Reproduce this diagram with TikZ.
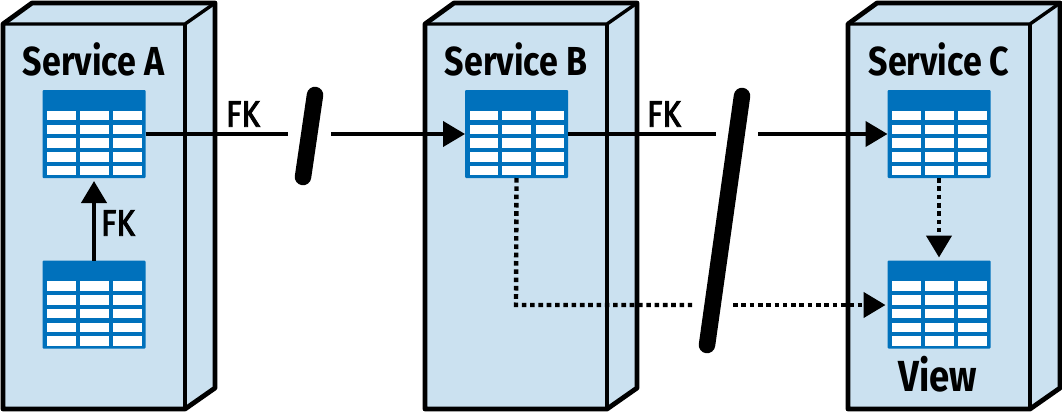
\documentclass[tikz,border=0pt]{standalone}
\usepackage{fontspec}
\setmainfont{Fira Sans}[FakeStretch=0.84]
\newfontfamily\fkfont{Fira Sans}[FakeStretch=0.85,FakeBold=2.4]
\usetikzlibrary{arrows.meta}
\definecolor{svcfill}{HTML}{CBE1F0}
\definecolor{tblblue}{HTML}{0071BC}
\tikzset{
  x=1pt,y=-1pt,
  edge/.style={draw=black,line width=4.8pt,line join=round,fill=svcfill},
  inner edge/.style={draw=black,line width=3.4pt,line join=round},
  tblnode/.style={fill=tblblue,draw=none,rounded corners=1pt,minimum width=103pt,minimum height=88pt,inner sep=0pt,outer sep=0pt,anchor=north west},
  cell/.style={fill=white,draw=none},
  label/.style={font=\fontsize{40.5}{41}\selectfont\bfseries,inner sep=0pt},
  viewlabel/.style={font=\fontsize{43.5}{44}\selectfont\bfseries,inner sep=0pt},
  fklabel/.style={font=\fontsize{37}{37}\fkfont,inner sep=0pt},
  link/.style={line width=4.2pt,draw=black},
  tip/.style={-{Triangle[length=22pt,width=25pt]}},
  dots/.style={line width=4.4pt,draw=black,dash pattern=on 4.6pt off 3.7pt},
  slash/.style={line width=16.5pt,line cap=round,draw=black},
}
\newcommand{\svcbox}[1]{%
  \path[edge] (#1+3,24) -- (#1+32,3) -- (#1+215,3) -- (#1+215,388) -- (#1+185,409) -- (#1+3,409) -- cycle;
  \path[inner edge] (#1+3,24) -- (#1+185,24) -- (#1+215,3);
  \path[inner edge] (#1+185,24) -- (#1+185,409);
}
\newcommand{\dbtable}[3]{%
  \node[tblnode] (#1) at (#2,#3) {};
  \foreach \cx/\cw in {4.5/28.5,37/29,70.5/28.5}
    \foreach \cy/\ch in {20.5/9.5,34.5/9.5,48/9.5,62/9.5,75.5/9.5}
      \path[cell] (#2+\cx,#3+\cy) rectangle +(\cw,\ch);
}
\begin{document}
\begin{tikzpicture}
\useasboundingbox (0,0) rectangle (1062,412);
\svcbox{0}
\svcbox{422}
\svcbox{845}
\dbtable{a1}{42.5}{90}
\dbtable{a2}{42.5}{260.5}
\dbtable{b1}{465}{90}
\dbtable{c1}{887.5}{90}
\dbtable{c2}{887.5}{260.5}
\node[label] (sa) at (93.5,59) {Service A};
\node[label] (sb) at (516,59) {Service B};
\node[label] (sc) at (939,59) {Service C};
\node[viewlabel] (view) at (938,374) {View};
\node[fklabel] (fk1) at (243,114) {FK};
\node[fklabel] (fk2) at (664,114) {FK};
\node[fklabel] (fk3) at (118,223) {FK};
\coordinate (g1l) at (288,134);
\coordinate (g1r) at (331,134);
\coordinate (g2l) at (716,134);
\coordinate (g2r) at (758,134);
\coordinate (g3l) at (692,305);
\coordinate (g3r) at (733,305);
\coordinate (bd) at (516,305);
\coordinate (s1t) at (315,95);
\coordinate (s1b) at (303,177);
\coordinate (s2t) at (742,96);
\coordinate (s2b) at (707,345);
\draw[link] (a1.east |- g1l) -- (g1l);
\draw[link,tip] (g1r) -- (b1.west |- g1r);
\draw[link] (b1.east |- g2l) -- (g2l);
\draw[link,tip] (g2r) -- (c1.west |- g2r);
\draw[link,tip] (a2.north) -- ([yshift=-3pt]a1.south);
\draw[dots] (b1.south) -- (bd) -- (g3l);
\draw[dots,tip] (g3r) -- ([xshift=-2pt]c2.west |- g3r);
\draw[dots,tip] (c1.south) -- ([yshift=3pt]c2.north);
\draw[slash] (s1t) -- (s1b);
\draw[slash] (s2t) -- (s2b);
\end{tikzpicture}
\end{document}
